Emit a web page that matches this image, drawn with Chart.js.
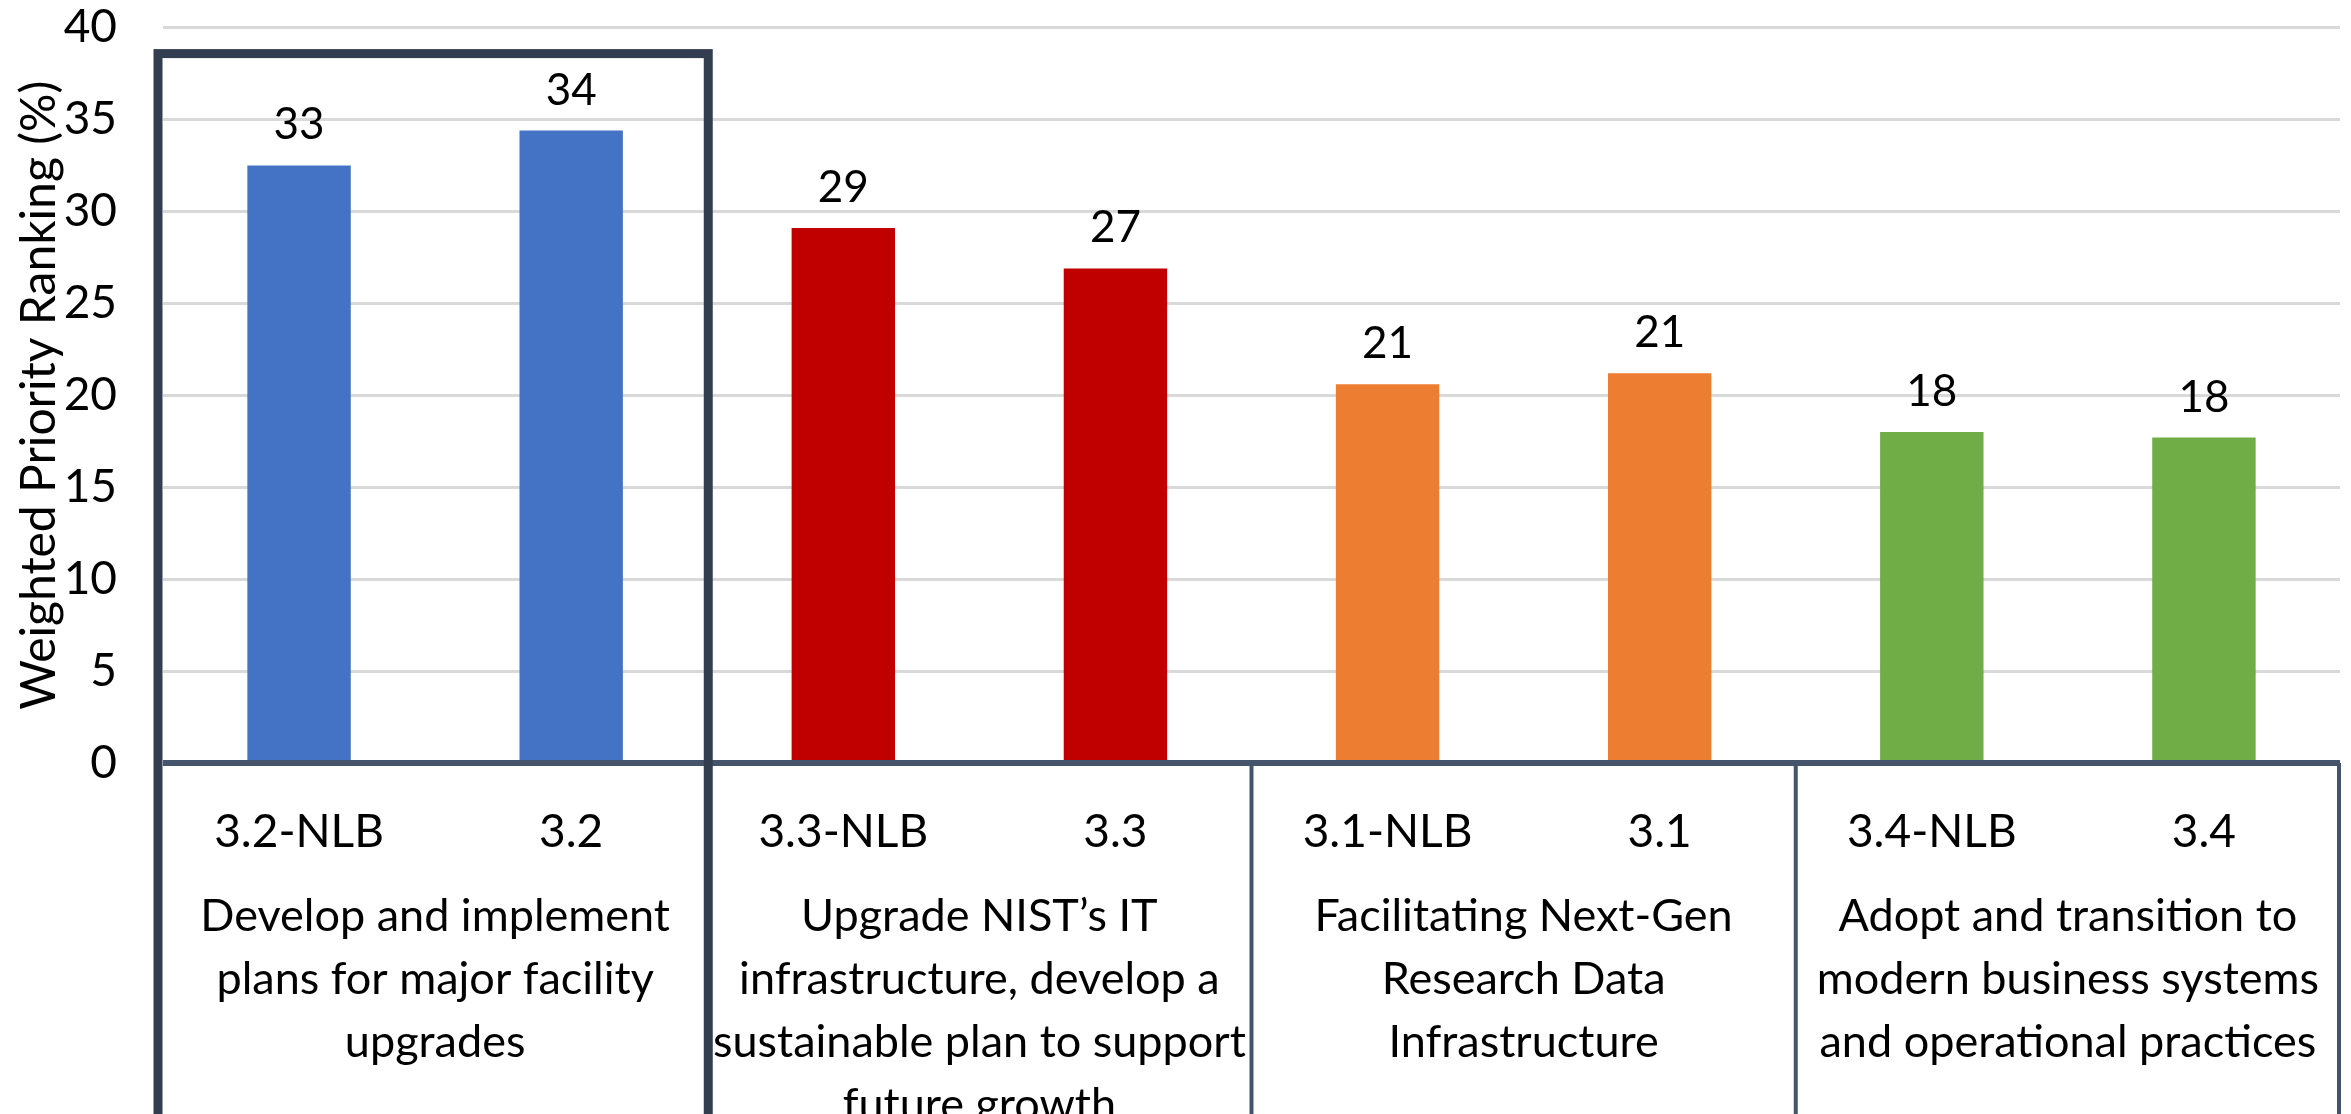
<!DOCTYPE html>
<html>
<head>
<meta charset="utf-8">
<script src="https://cdn.jsdelivr.net/npm/chart.js@4.4.0/dist/chart.umd.min.js"></script>
<style>
  html, body { margin: 0; padding: 0; background: #ffffff; }
  #wrap { width: 2351px; height: 1114px; position: relative; }
</style>
</head>
<body>
<div id="wrap"><canvas id="chart"></canvas></div>
<script>
// Chart data
const categories = ["3.2-NLB", "3.2", "3.3-NLB", "3.3", "3.1-NLB", "3.1", "3.4-NLB", "3.4"]
const values = [32.5, 34.4, 29.1, 26.9, 20.6, 21.2, 18.0, 17.7]
const groupLabels = [
  ["Develop and implement", "plans for major facility", "upgrades"],
  ["Upgrade NIST’s IT", "infrastructure, develop a", "sustainable plan to support", "future growth"],
  ["Facilitating Next-Gen", "Research Data", "Infrastructure"],
  ["Adopt and transition to", "modern business systems", "and operational practices"],
]
const groupColors = ["#4472C4", "#C00000", "#ED7D31", "#70AD47"]
const yTicks = [0, 5, 10, 15, 20, 25, 30, 35, 40]
const yTitle = "Weighted Priority Ranking (%)"

const FONT = "Lato, 'Open Sans', sans-serif"
const lineColor = "#44546A"

// Bar value labels (rounded, like the source)
const valueLabels = {
  id: "valueLabels",
  afterDatasetsDraw(chart) {
    const ctx = chart.ctx
    const meta = chart.getDatasetMeta(0)
    ctx.save()
    ctx.font = "44px " + FONT
    ctx.fillStyle = "#000000"
    ctx.textAlign = "center"
    ctx.textBaseline = "alphabetic"
    meta.data.forEach((bar, i) => {
      ctx.fillText(String(Math.round(values[i])), bar.x, bar.y - 26)
    })
    ctx.restore()
  },
}

// Zero line, group dividers, group captions and highlight box
const groupBoxes = {
  id: "groupBoxes",
  afterDatasetsDraw(chart) {
    const ctx = chart.ctx
    const xs = chart.scales.x
    const ys = chart.scales.y
    const area = chart.chartArea
    const half = (xs.getPixelForValue(1) - xs.getPixelForValue(0)) / 2
    const zeroY = ys.getPixelForValue(0)
    const bottom = chart.height + 10

    ctx.save()
    // zero axis line
    ctx.strokeStyle = lineColor
    ctx.lineWidth = 6
    ctx.beginPath()
    ctx.moveTo(area.left, zeroY)
    ctx.lineTo(area.right, zeroY)
    ctx.stroke()

    // group dividers
    ctx.lineWidth = 4
    for (let g = 1; g <= groupLabels.length; g++) {
      const x = Math.min(xs.getPixelForValue(g * 2 - 1) + half, area.right - 1)
      ctx.beginPath()
      ctx.moveTo(x, zeroY)
      ctx.lineTo(x, bottom)
      ctx.stroke()
    }

    // group captions
    ctx.font = "45px " + FONT
    ctx.fillStyle = "#000000"
    ctx.textAlign = "center"
    ctx.textBaseline = "middle"
    groupLabels.forEach((lines, g) => {
      const cx = (xs.getPixelForValue(g * 2) + xs.getPixelForValue(g * 2 + 1)) / 2
      lines.forEach((line, k) => {
        ctx.fillText(line, cx, zeroY + 153 + k * 63)
      })
    })

    // highlight box around first group
    const bx0 = xs.getPixelForValue(0) - half - 5
    const bx1 = xs.getPixelForValue(1) + half + 1
    ctx.strokeStyle = "#323E4F"
    ctx.lineWidth = 9
    ctx.strokeRect(bx0, area.top + 26, bx1 - bx0, bottom - area.top)
    ctx.restore()
  },
}

const ctx = document.getElementById("chart")

new Chart(ctx, {
  type: "bar",
  data: {
    labels: categories,
    datasets: [
      {
        data: values,
        backgroundColor: values.map((v, i) => groupColors[Math.floor(i / 2)]),
        categoryPercentage: 1,
        barPercentage: 0.38,
      },
    ],
  },
  options: {
    responsive: true,
    maintainAspectRatio: false,
    animation: false,
    layout: {
      padding: { top: 25, right: 11, left: 0, bottom: 0 },
    },
    plugins: {
      legend: { display: false },
      tooltip: { enabled: false },
    },
    scales: {
      x: {
        grid: { display: false },
        border: { display: false },
        ticks: {
          color: "#000000",
          font: { family: FONT, size: 46 },
          padding: 34,
          maxRotation: 0,
          autoSkip: false,
        },
        afterFit: (scale) => {
          scale.height = 351
        },
      },
      y: {
        min: 0,
        max: 40,
        afterBuildTicks: (scale) => {
          scale.ticks = yTicks.map((v) => ({ value: v }))
        },
        grid: {
          color: "#D9D9D9",
          lineWidth: 3,
          drawTicks: true,
          tickLength: 46,
          tickColor: "rgba(0,0,0,0)",
        },
        border: { display: false },
        ticks: {
          color: "#000000",
          font: { family: FONT, size: 46 },
          padding: 0,
        },
        title: {
          display: true,
          text: yTitle,
          color: "#000000",
          font: { family: FONT, size: 48 },
          padding: { top: 11, bottom: 0 },
        },
        afterFit: (scale) => {
          scale.width = 163
        },
      },
    },
  },
  plugins: [valueLabels, groupBoxes],
})
</script>
</body>
</html>
